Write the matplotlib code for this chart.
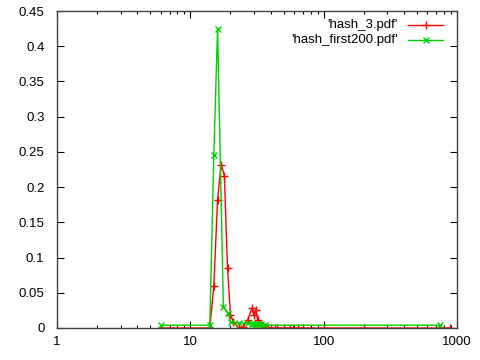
import matplotlib
matplotlib.use('Agg')
import numpy as np
from matplotlib import pyplot as plt

# 'hash_3.pdf'
red_x = [6, 14, 15, 16, 17, 18, 19, 20, 21, 23, 25, 27, 29, 30, 31, 32, 33, 34,
         36, 38, 40, 43, 45, 50, 56, 59, 64, 70, 100, 200, 735, 890]
red_y = [0, 0, 0.060, 0.181, 0.232, 0.216, 0.085, 0.019, 0.009, 0, 0.002, 0.012,
         0.028, 0.018, 0.025, 0.012, 0.007, 0.003, 0.001, 0, 0, 0, 0, 0, 0, 0,
         0, 0, 0, 0, 0, 0]

# 'hash_first200.pdf'
green_x = [6, 14, 15, 16, 17.7, 19.3, 20.1, 23, 27, 29, 30, 31, 32, 33, 34, 36, 750]
green_y = [0.004, 0.004, 0.245, 0.425, 0.030, 0.021, 0.008, 0.007, 0.007, 0.006,
           0.005, 0.006, 0.005, 0.006, 0.005, 0.004, 0.004]

y_ticks = [0, 0.05, 0.1, 0.15, 0.2, 0.25, 0.3, 0.35, 0.4, 0.45]
y_labels = ['0', '0.05', '0.1', '0.15', '0.2', '0.25', '0.3', '0.35', '0.4', '0.45']
x_ticks = [1, 10, 100, 1000]
x_labels = ['1', '10', '100', '1000']

RED = '#ff0000'
GREEN = '#00d000'

plt.rcParams['font.family'] = ['Liberation Sans', 'DejaVu Sans']
plt.rcParams['font.size'] = 9.5

fig = plt.figure(figsize=(4.8, 3.6), dpi=100)
ax = fig.add_axes([57 / 480, 32 / 360, 400 / 480, 317 / 360])

ax.plot(red_x, red_y, '-', color=RED, lw=1, marker='+', ms=5.5, mew=1)
ax.plot(green_x, green_y, '-', color=GREEN, lw=1, marker='x', ms=4.5, mew=1)

ax.set_xscale('log')
ax.set_xlim(1, 1000)
ax.set_ylim(0, 0.45)
ax.set_xticks(x_ticks)
ax.set_xticklabels(x_labels)
ax.set_yticks(y_ticks)
ax.set_yticklabels(y_labels)
ax.tick_params(which='major', direction='in', length=5, width=0.8,
               top=True, right=True, pad=6)
ax.tick_params(which='minor', direction='in', length=2.5, width=0.8,
               top=True, right=True)
ax.tick_params(axis='y', pad=9)
for s in ax.spines.values():
    s.set_color('#444444')
    s.set_linewidth(1)

# gnuplot-style key: right-aligned text, sample to its right
entries = [("'hash_3.pdf'", RED, '+', 5.5), ("'hash_first200.pdf'", GREEN, 'x', 4.5)]
for i, (lab, col, mk, ms) in enumerate(entries):
    yy = 1 - (14 + 15 * i) / 317
    ax.text((398 - 57) / 400, yy, lab, transform=ax.transAxes,
            ha='right', va='center')
    ax.plot([(408 - 57) / 400, (443 - 57) / 400], [yy, yy], '-', color=col,
            lw=1, transform=ax.transAxes, clip_on=False)
    ax.plot([(425.5 - 57) / 400], [yy], mk, color=col, ms=ms, mew=1,
            transform=ax.transAxes, clip_on=False)

fig.savefig('out.png', dpi=100)
